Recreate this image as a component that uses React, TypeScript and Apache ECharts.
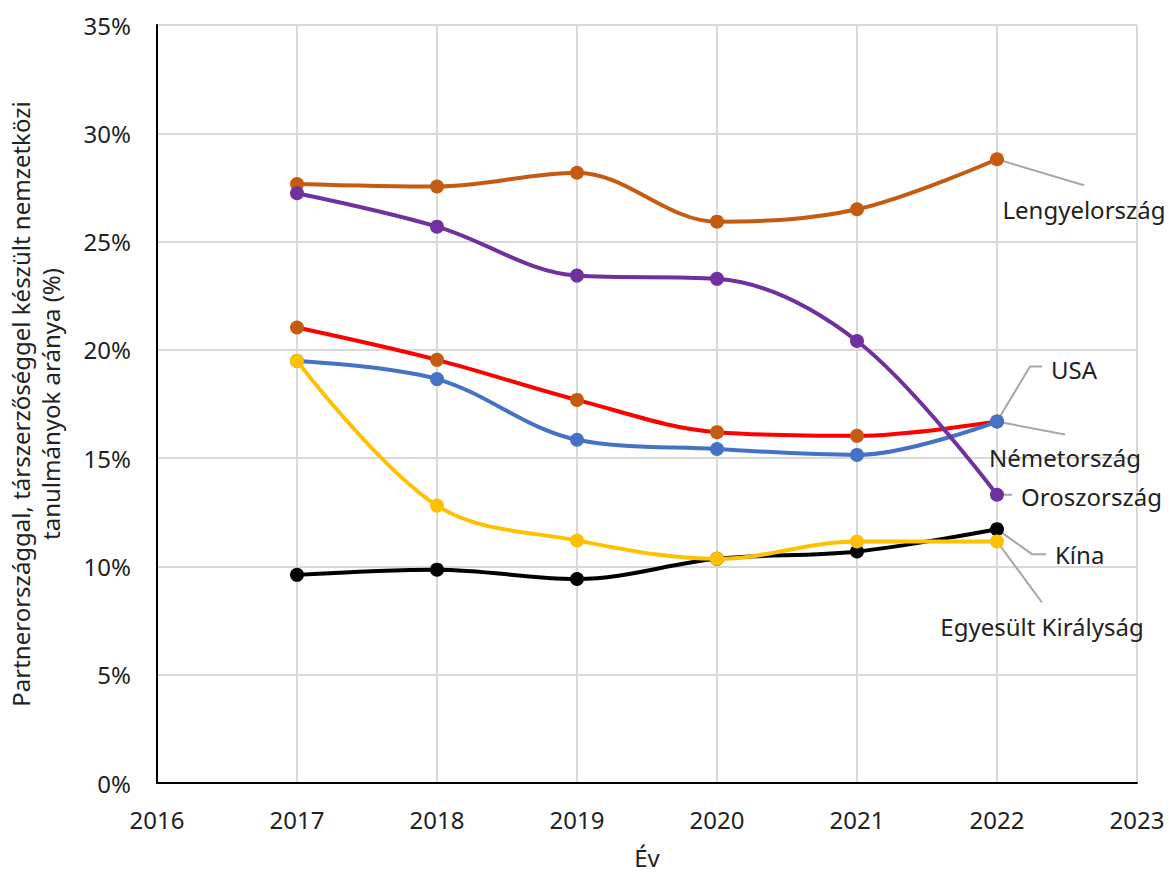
import React, { useEffect, useRef } from "react";
import * as echarts from "echarts";

const years = [2017, 2018, 2019, 2020, 2021, 2022];
const lengyel = [27.66, 27.54, 28.18, 25.92, 26.49, 28.8];
const orosz = [27.23, 25.69, 23.43, 23.28, 20.41, 13.31];
const nemet = [21.03, 19.54, 17.69, 16.2, 16.03, 16.69];
const usa = [19.49, 18.65, 15.85, 15.42, 15.15, 16.69];
const uk = [19.49, 12.81, 11.2, 10.35, 11.15, 11.15];
const kina = [9.61, 9.85, 9.42, 10.35, 10.69, 11.72];

const FONT = "'Noto Sans', sans-serif";
const FS = 24;

type Ann = { pts: number[][]; tx: number; ty: number; align: "left" | "center" };

const seriesDefs = [
  { name: "Kína", data: kina, color: "#000000", marker: "#000000", ann: { pts: [[0, 0], [35, 25], [49, 25]], tx: 58, ty: 25, align: "left" } as Ann },
  { name: "Lengyelország", data: lengyel, color: "#C55A11", marker: "#C55A11", ann: { pts: [[0, 0], [87, 26]], tx: 87, ty: 50, align: "center" } as Ann },
  { name: "Németország", data: nemet, color: "#FF0000", marker: "#C55A11", ann: { pts: [[0, 0], [68, 13]], tx: 68, ty: 36, align: "center" } as Ann },
  { name: "USA", data: usa, color: "#4472C4", marker: "#4472C4", ann: { pts: [[0, 0], [33, -55], [45, -55]], tx: 54, ty: -52, align: "left" } as Ann },
  { name: "Egyesült Királyság", data: uk, color: "#FFC000", marker: "#FFC000", ann: { pts: [[0, 0], [45, 61]], tx: 45, ty: 85, align: "center" } as Ann },
  { name: "Oroszország", data: orosz, color: "#7030A0", marker: "#7030A0", ann: { pts: [[6, 0], [15, 0]], tx: 24, ty: 2, align: "left" } as Ann },
];

export default function App() {
  const ref = useRef<HTMLDivElement>(null);
  useEffect(() => {
    if (!ref.current) return;
    const chart = echarts.init(ref.current, null, { renderer: "svg" });
    const option: any = {
      animation: false,
      backgroundColor: "#ffffff",
      grid: { left: 157, right: 32, top: 25, bottom: 90, containLabel: false, outerBoundsMode: "none" },
      xAxis: {
        type: "value",
        min: 2016,
        max: 2023,
        interval: 1,
        name: "Év",
        nameLocation: "middle",
        nameGap: 62,
        nameTextStyle: { fontFamily: FONT, fontSize: FS, color: "#222" },
        axisLine: { show: true, lineStyle: { color: "#000", width: 2 } },
        axisTick: { show: false },
        axisLabel: { fontFamily: FONT, fontSize: FS, color: "#222", margin: 24, formatter: (v: number) => String(v) },
        splitLine: { show: true, lineStyle: { color: "#D9D9D9", width: 2 } },
      },
      yAxis: {
        type: "value",
        min: 0,
        max: 35,
        interval: 5,
        name: "Partnerországgal, társzerzőséggel készült nemzetközi\ntanulmányok aránya (%)",
        nameLocation: "middle",
        nameGap: 92,
        nameRotate: 90,
        nameTextStyle: { fontFamily: FONT, fontSize: FS, color: "#222", lineHeight: 30 },
        axisLine: { show: true, lineStyle: { color: "#000", width: 2 } },
        axisTick: { show: false },
        axisLabel: { fontFamily: FONT, fontSize: FS, color: "#222", margin: 26, formatter: "{value}%" },
        splitLine: { show: true, lineStyle: { color: "#D9D9D9", width: 2 } },
      },
      series: seriesDefs.map((s, i) => ({
        name: s.name,
        type: "line",
        smooth: 0.35,
        z: 3 + i,
        data: years.map((y, k) => [y, s.data[k]]),
        symbol: "circle",
        symbolSize: 14,
        lineStyle: { color: s.color, width: 4 },
        itemStyle: { color: s.marker },
      })),
    };
    chart.setOption(option);

    const graphics: any[] = [];
    seriesDefs.forEach((s) => {
      const last = s.data[s.data.length - 1];
      const p = chart.convertToPixel({ xAxisIndex: 0, yAxisIndex: 0 }, [years[years.length - 1], last]) as number[];
      graphics.push({
        type: "polyline",
        z: 1,
        shape: { points: s.ann.pts.map((q) => [p[0] + q[0], p[1] + q[1]]) },
        style: { stroke: "#A6A6A6", lineWidth: 2, fill: null },
      });
      graphics.push({
        type: "text",
        z: 10,
        x: p[0] + s.ann.tx,
        y: p[1] + s.ann.ty,
        style: {
          text: s.name,
          fontFamily: FONT,
          fontSize: FS,
          fill: "#222",
          textAlign: s.ann.align,
          textVerticalAlign: "middle",
        },
      });
    });
    chart.setOption({ graphic: graphics });

    return () => chart.dispose();
  }, []);
  return (
    <div
      ref={ref}
      style={{ position: "absolute", left: 0, top: 0, width: 1169, height: 873 }}
    />
  );
}
